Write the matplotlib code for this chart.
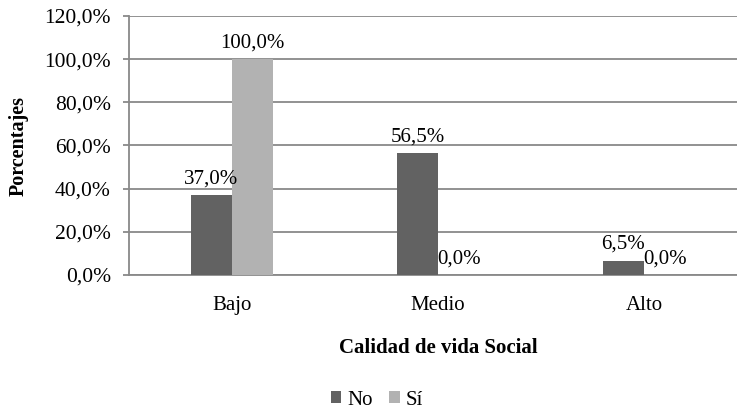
import numpy as np
import matplotlib.pyplot as plt

# Datos
categorias = ["Bajo", "Medio", "Alto"]
valores_no = [37.0, 56.5, 6.5]
valores_si = [100.0, 0.0, 0.0]
series = ["No", "Sí"]
yticks = [0, 20, 40, 60, 80, 100, 120]

plt.rcParams['font.family'] = ['Liberation Serif', 'DejaVu Serif']

fig = plt.figure(figsize=(7.37, 4.11), dpi=100)
ax = fig.add_axes([129 / 737, 136 / 411, 618 / 737, 259 / 411])

x = np.arange(len(categorias))
w = 0.2
b1 = ax.bar(x - w / 2, valores_no, w, color="#626262", label=series[0], zorder=3)
b2 = ax.bar(x + w / 2, valores_si, w, color="#b2b2b2", label=series[1], zorder=3)

for bars in (b1, b2):
    for r in bars:
        v = r.get_height()
        ax.annotate(f"{v:.1f}%".replace(".", ","),
                    (r.get_x() + r.get_width() / 2, v),
                    xytext=(0, 5), textcoords="offset points",
                    ha="center", va="bottom", fontsize=15)

ax.set_xlim(-0.5, 2.5)
ax.set_ylim(0, 120)
ax.set_yticks(yticks)
ax.set_yticklabels([f"{t:.1f}%".replace(".", ",") for t in yticks], fontsize=15.5)
ax.set_xticks(x)
ax.set_xticklabels(categorias, fontsize=15)
ax.tick_params(axis="x", length=0, pad=15)
ax.tick_params(axis="y", length=4, width=1.3, color="#898989", pad=9)

ax.grid(axis="y", color="#898989", linewidth=1.3, zorder=0)
for s in ("top", "right"):
    ax.spines[s].set_visible(False)
ax.spines["left"].set_color("#898989")
ax.spines["left"].set_linewidth(1.3)
ax.spines["bottom"].set_color("#898989")
ax.spines["bottom"].set_linewidth(1.3)

fig.text(19 / 737, 1 - 146 / 411, "Porcentajes", rotation=90, fontsize=14.5,
         fontweight="bold", ha="center", va="center")
fig.text(438 / 737, 1 - 348 / 411, "Calidad de vida Social", fontsize=15,
         fontweight="bold", ha="center", va="center")

fig.legend(handles=[b1, b2], labels=series, loc="center",
           bbox_to_anchor=(377 / 737, 1 - 400 / 411), ncol=2, frameon=False,
           fontsize=15, handlelength=0.5, handleheight=0.5,
           handletextpad=0.3, columnspacing=0.8)

fig.savefig("out.png", dpi=100)
